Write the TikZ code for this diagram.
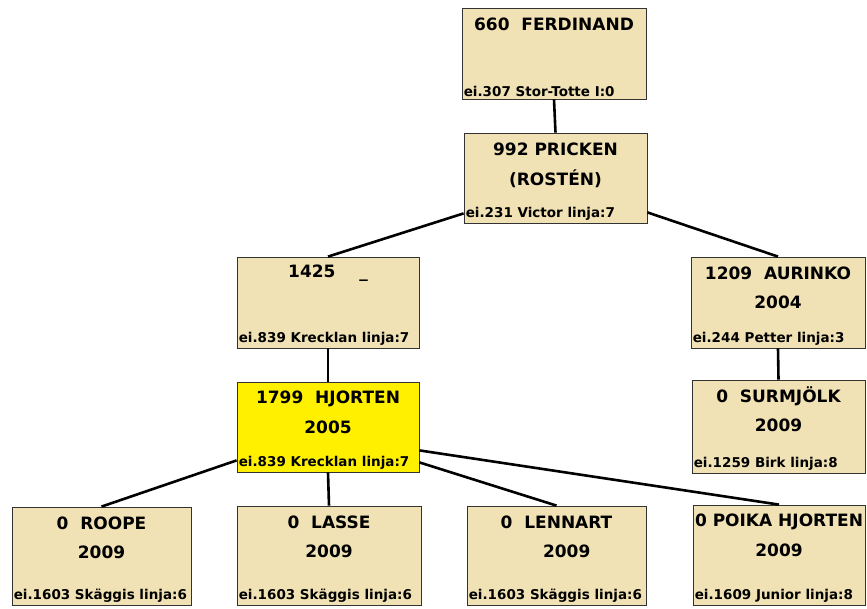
\documentclass[tikz,border=0pt]{standalone}
\usepackage{fontspec}
\setmainfont{DejaVu Sans}
\usetikzlibrary{fit,calc}
\definecolor{tan}{RGB}{240,226,180}
\definecolor{hilite}{RGB}{255,240,0}
\tikzset{
  box/.style={draw=black!80, line width=0.8pt, inner sep=0pt},
  head/.style={font=\bfseries\fontsize{17}{19}\selectfont, inner sep=0pt, anchor=center},
  foot/.style={font=\bfseries\fontsize{13.5}{15}\selectfont, inner sep=0pt, anchor=south west},
  link/.style={line width=2.6pt, black},
}
\newcommand{\dogbox}[9]{%
  \node[box, fill=#6, fit={(#2,#3) (#4,#5)}] (#1) {};
  \node[head] (#1-a) at ($(#1.north)+(0,17)$) {#7};
  \node[head] (#1-b) at ($(#1.north)+(0,46)$) {#8};
  \node[foot] (#1-c) at ($(#1.south west)+(2,-3)$) {#9};
}
\begin{document}
\begin{tikzpicture}[x=1pt, y=-1pt]
\path[use as bounding box, fill=white] (0,0) rectangle (867,608);
\dogbox{ferd}{462}{8}{646}{99}{tan}{660\ \ FERDINAND}{}{ei.307 Stor-Totte I:0}
\dogbox{prick}{464}{133}{647}{223}{tan}{992 PRICKEN}{(ROSTÉN)}{ei.231 Victor linja:7}
\dogbox{nonetf}{237}{257}{419}{348}{tan}{1425\hspace{1.4em}\_}{}{ei.839 Krecklan linja:7}
\dogbox{aur}{691}{257}{865}{348}{tan}{1209\ \ AURINKO}{2004}{ei.244 Petter linja:3}
\dogbox{hj}{237}{382}{419}{472}{hilite}{1799\ \ HJORTEN}{2005}{ei.839 Krecklan linja:7}
\dogbox{surm}{692}{380}{865}{473}{tan}{0\ \ SURMJÖLK}{2009}{ei.1259 Birk linja:8}
\dogbox{roope}{12}{507}{191}{605}{tan}{0\ \ ROOPE}{2009}{ei.1603 Skäggis linja:6}
\dogbox{lasse}{237}{506}{421}{605}{tan}{0\ \ LASSE}{2009}{ei.1603 Skäggis linja:6}
\dogbox{lenn}{467}{506}{646}{605}{tan}{0\ \ LENNART}{\hspace{1.2em}2009}{ei.1603 Skäggis linja:6}
\dogbox{poika}{693}{505}{865}{605}{tan}{0 POIKA HJORTEN}{2009}{ei.1609 Junior linja:8}
\draw[link] (ferd.south) -- (prick.north);
\draw[link] ([yshift=10pt]prick.south west) -- (nonetf.north);
\draw[link] ([yshift=11pt]prick.south east) -- (aur.north);
\draw[link] (nonetf.south) -- (hj.north);
\draw[link] (aur.south) -- (surm.north);
\draw[link] ([yshift=12pt]hj.south west) -- (roope.north);
\draw[link] (hj.south) -- (lasse.north);
\draw[link] ([yshift=10pt]hj.south east) -- (lenn.north);
\draw[link] ([yshift=22pt]hj.south east) -- (poika.north);
\end{tikzpicture}
\end{document}
